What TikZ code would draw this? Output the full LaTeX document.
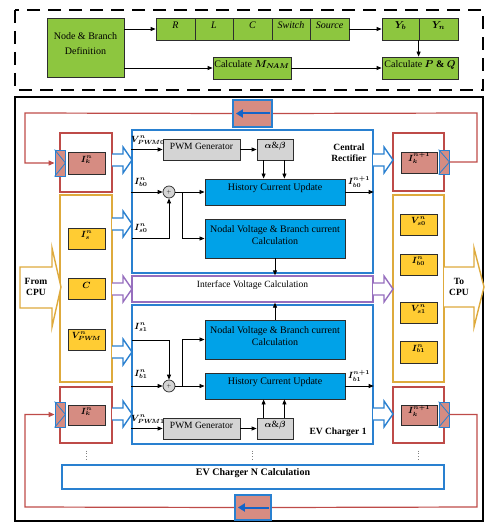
\documentclass[tikz,border=0pt]{standalone}
\usepackage{fontspec}
\setmainfont{Liberation Serif}
\usepackage{bm}
\usetikzlibrary{fit,arrows.meta,calc}

\definecolor{grn}{RGB}{141,198,63}
\definecolor{cyanbox}{RGB}{0,162,232}
\definecolor{bluel}{RGB}{41,128,208}
\definecolor{blued}{RGB}{20,100,200}
\definecolor{redl}{RGB}{190,75,72}
\definecolor{pinkf}{RGB}{214,140,130}
\definecolor{yelf}{RGB}{255,204,51}
\definecolor{gold}{RGB}{222,170,60}
\definecolor{purp}{RGB}{150,110,190}
\definecolor{greyf}{RGB}{212,212,212}
\definecolor{darkl}{RGB}{45,45,45}

\tikzset{
  every node/.style={inner sep=0pt, font=\fontsize{9}{10.5}\selectfont},
  gbox/.style={draw=darkl, fill=grn, line width=0.8pt, align=center, font=\fontsize{10}{12}\selectfont},
  cbox/.style={draw=darkl, fill=cyanbox, line width=0.9pt, align=center, font=\fontsize{10}{12}\selectfont},
  gybox/.style={draw=darkl, fill=greyf, line width=0.8pt, font=\fontsize{9.5}{11}\selectfont},
  pinkbox/.style={draw=darkl, fill=pinkf, line width=0.8pt},
  yelbox/.style={draw=darkl, fill=yelf, line width=0.8pt},
  redframe/.style={draw=redl, line width=1.1pt},
  goldframe/.style={draw=gold, line width=1.1pt},
  blueframe/.style={draw=bluel, line width=1.3pt},
  purpframe/.style={draw=purp, line width=1.3pt},
  plug/.style={draw=bluel, fill=pinkf, line width=0.9pt},
  fbbox/.style={draw=bluel, fill=pinkf, line width=2.2pt},
  arr/.style={-{Triangle[length=5pt,width=4pt]}, line width=0.8pt, draw=black},
  redline/.style={draw=redl, line width=1.2pt},
  redarr/.style={redline, -{Triangle[length=6pt,width=5pt]}},
  fbarr/.style={draw=blued, line width=2pt, -{Triangle[length=7pt,width=8pt]}},
  sumnode/.style={circle, draw=darkl, fill=greyf, line width=0.7pt, minimum size=12pt, font=\fontsize{4}{4}\selectfont},
  lab/.style={font=\fontsize{9}{10}\selectfont},
  bold/.style={font=\fontsize{9.5}{11}\selectfont\bfseries, align=center}
}

% hollow block arrow: x start, x tip, y centre, colour
\newcommand{\hollowarrow}[4]{%
  \draw[#4, line width=1.4pt, fill=white, line join=miter]
    (#1,#3-6) -- (#2-9,#3-6) -- (#2-9,#3-13) -- (#2,#3) -- (#2-9,#3+13) -- (#2-9,#3+6) -- (#1,#3+6);}
% connector plug with a chevron
\newcommand{\plugmark}[1]{%
  \draw[bluel, line width=0.8pt] (#1.north west) -- (#1.east) -- (#1.south west);}

\begin{document}
\begin{tikzpicture}[x=1pt,y=-1pt]
\useasboundingbox (0,0) rectangle (489,524);

% ---------------- network definition stage ----------------
\draw[line width=2pt, dash pattern=on 13pt off 8pt] (15,10) rectangle (483,90);

\node[gbox, fit={(47,18)(124,77)}] (def) {Node \& Branch\\[3pt]Definition};
\node[gbox, fit={(156,18)(195,40)}] (R) {\textit{R}};
\node[gbox, fit={(195,18)(233,40)}] (L) {\textit{L}};
\node[gbox, fit={(233,18)(272,40)}] (C) {\textit{C}};
\node[gbox, fit={(272,18)(310,40)}] (Sw) {\textit{Switch}};
\node[gbox, fit={(310,18)(349,40)}] (Src) {\textit{Source}};
\node[gbox, fit={(382,18)(419,40)}] (Yb) {$\bm{Y_b}$};
\node[gbox, fit={(419,18)(458,40)}] (Yn) {$\bm{Y_n}$};
\node[gbox, fit={(213,57)(291,79)}] (mnam) {Calculate $\bm{M_{N\!AM}}$};
\node[gbox, fit={(382,57)(458,79)}] (pq) {Calculate $\bm{P}$ \textbf{\&} $\bm{Q}$};

\draw[arr] (def.east |- R.west) -- (R.west);
\draw[arr] (Src.east) -- (Yb.west);
\draw[arr] (def.east |- mnam.west) -- (mnam.west);
\draw[arr] (mnam.east) -- (pq.west);
\draw[arr] (Yn.south west) -- (Yn.south west |- pq.north);

% ---------------- real-time simulation stage ----------------
\draw[line width=1.8pt] (15,97) rectangle (483,521);

% input / output columns
\node[redframe, fit={(60,133)(112,192)}] (lred1) {};
\node[goldframe, fit={(60,195)(112,382)}] (lyel) {};
\node[redframe, fit={(60,387)(112,443)}] (lred2) {};
\node[redframe, fit={(393,133)(444,191)}] (rred1) {};
\node[goldframe, fit={(393,195)(444,382)}] (ryel) {};
\node[redframe, fit={(393,387)(444,443)}] (rred2) {};

\node[pinkbox, fit={(68,152)(105,174)}] (ik1) {$\bm{I_k^n}$};
\node[yelbox, fit={(68,228)(105,249)}] (is) {$\bm{I_s^n}$};
\node[yelbox, fit={(68,278)(105,299)}] (cc) {$\bm{C}$};
\node[yelbox, fit={(68,329)(105,350)}] (vpwm) {$\bm{V_{PW\!M}^n}$};
\node[pinkbox, fit={(68,405)(105,425)}] (ik2) {$\bm{I_k^n}$};

\node[pinkbox, fit={(401,152)(437,173)}] (rk1) {$\bm{I_k^{n+1}}$};
\node[yelbox, fit={(400,214)(437,235)}] (vs0) {$\bm{V_{s0}^n}$};
\node[yelbox, fit={(400,254)(437,275)}] (ib0) {$\bm{I_{b0}^n}$};
\node[yelbox, fit={(400,302)(437,323)}] (vs1) {$\bm{V_{s1}^n}$};
\node[yelbox, fit={(400,341)(437,363)}] (ib1) {$\bm{I_{b1}^n}$};
\node[pinkbox, fit={(401,405)(437,425)}] (rk2) {$\bm{I_k^{n+1}}$};

% plugs on the red boxes
\node[plug, fit={(55,150)(65,176)}] (lc1) {};
\node[plug, fit={(439,150)(449,174)}] (rc1) {};
\node[plug, fit={(55,402)(65,427)}] (lc2) {};
\node[plug, fit={(439,402)(449,427)}] (rc2) {};
\plugmark{lc1}\plugmark{rc1}\plugmark{lc2}\plugmark{rc2}

% containers
\node[blueframe, fit={(132,130)(373,273)}] (cr) {};
\node[purpframe, fit={(132,276)(373,302)}, font=\fontsize{9.5}{11}\selectfont] (iface) {Interface Voltage Calculation};
\node[blueframe, fit={(132,305)(373,444)}] (ev1) {};
\node[blueframe, fit={(62,465)(444,489)}, font=\fontsize{10}{12}\selectfont\bfseries] (evN) {EV Charger N Calculation};

% ---- central rectifier ----
\node[gybox, fit={(163,139)(240,160)}] (pwm0) {PWM Generator};
\node[gybox, fit={(257,139)(293,160)}] (ab0) {$\bm{\alpha}$\&$\bm{\beta}$};
\node[cbox, fit={(205,179)(345,205)}] (hcu0) {History Current Update};
\node[cbox, fit={(205,219)(345,258)}] (nv0) {Nodal Voltage \& Branch current\\Calculation};
\node[sumnode] (sum0) at (169,192) {$+$};
\coordinate (s0in) at (132,238);
\coordinate (br0) at (182,192);

\draw[arr] (cr.west |- pwm0.west) -- (pwm0.west);
\draw[arr] (pwm0.east) -- (ab0.west);
\draw[arr] ([xshift=7pt]ab0.south west) -- ([xshift=7pt]ab0.south west |- hcu0.north);
\draw[arr] ([xshift=-9pt]ab0.south east) -- ([xshift=-9pt]ab0.south east |- hcu0.north);
\draw[arr] (cr.west |- sum0.west) -- (sum0.west);
\draw[arr] (s0in) -| (sum0.south);
\draw[arr] (sum0.east) -- (sum0.east -| hcu0.west);
\draw[arr] (br0) |- (nv0.west);
\draw[arr] (nv0.south) -- (nv0.south |- iface.north);
\draw[arr] (hcu0.east) -- (hcu0.east -| cr.east);

\node[lab] at (148,140) {$\bm{V_{PW\!M0}^n}$};
\node[lab] at (141,182) {$\bm{I_{b0}^n}$};
\node[lab] at (141,228) {$\bm{I_{s0}^n}$};
\node[lab] at (359,182) {$\bm{I_{b0}^{n+1}}$};
\node[bold] at (349,153) {Central\\Rectifier};

% ---- EV charger 1 ----
\node[cbox, fit={(205,320)(345,359)}] (nv1) {Nodal Voltage \& Branch current\\Calculation};
\node[cbox, fit={(205,373)(345,399)}] (hcu1) {History Current Update};
\node[gybox, fit={(163,418)(240,439)}] (pwm1) {PWM Generator};
\node[gybox, fit={(257,418)(293,439)}] (ab1) {$\bm{\alpha}$\&$\bm{\beta}$};
\node[sumnode] (sum1) at (169,386) {$+$};
\coordinate (s1in) at (132,340);
\coordinate (br1) at (182,386);

\draw[arr] (s1in) -| (sum1.north);
\draw[arr] (ev1.west |- sum1.west) -- (sum1.west);
\draw[arr] (sum1.east) -- (sum1.east -| hcu1.west);
\draw[arr] (br1) |- (nv1.west);
\draw[arr] (nv1.north) -- (nv1.north |- iface.south);
\draw[arr] (hcu1.east) -- (hcu1.east -| ev1.east);
\draw[arr] (ev1.west |- pwm1.west) -- (pwm1.west);
\draw[arr] (pwm1.east) -- (ab1.west);
\draw[arr] ([xshift=7pt]ab1.north west) -- ([xshift=7pt]ab1.north west |- hcu1.south);
\draw[arr] ([xshift=-9pt]ab1.north east) -- ([xshift=-9pt]ab1.north east |- hcu1.south);

\node[lab] at (141,327) {$\bm{I_{s1}^n}$};
\node[lab] at (141,374) {$\bm{I_{b1}^n}$};
\node[lab] at (148,419) {$\bm{V_{PW\!M1}^n}$};
\node[lab] at (359,376) {$\bm{I_{b1}^{n+1}}$};
\node[bold] at (338,432) {EV Charger 1};

% ---- block arrows between columns and solvers ----
\hollowarrow{112}{132}{160}{bluel}
\hollowarrow{112}{132}{224}{bluel}
\hollowarrow{112}{132}{289}{purp}
\hollowarrow{112}{132}{352}{bluel}
\hollowarrow{112}{132}{414}{bluel}
\hollowarrow{373}{393}{160}{bluel}
\hollowarrow{373}{393}{289}{purp}
\hollowarrow{373}{393}{414}{bluel}

% CPU exchange arrows
\draw[gold, line width=1.4pt, fill=white, line join=miter]
  (20,267) -- (52,267) -- (52,248) -- (61,287) -- (52,327) -- (52,308) -- (20,308) -- cycle;
\node[bold] at (36,287) {From\\CPU};
\draw[gold, line width=1.4pt, fill=white, line join=miter]
  (444,267) -- (474,267) -- (474,248) -- (484,287) -- (474,327) -- (474,307) -- (444,307);
\node[bold] at (459,287) {To\\CPU};

% ---- history current feedback loops ----
\node[fbbox, fit={(233,100)(272,127)}] (fb1) {};
\node[fbbox, fit={(235,495)(271,520)}] (fb2) {};
\coordinate (ne1) at (477,113);
\coordinate (nw1) at (25,113);
\coordinate (se2) at (477,507);
\coordinate (sw2) at (25,507);
\draw[redline] (rc1.east) -| (ne1) -- (fb1.east);
\draw[redarr] (fb1.west) -- (nw1) |- (lc1.west);
\draw[redline] (rc2.east) -| (se2) -- (fb2.east);
\draw[redarr] (fb2.west) -- (sw2) |- (lc2.west);
\draw[fbarr] ($(fb1.east)+(-3,0)$) -- ($(fb1.west)+(4,0)$);
\draw[fbarr] ($(fb2.east)+(-3,0)$) -- ($(fb2.west)+(4,0)$);

% ellipsis between charger 1 and charger N
\draw[gray, dotted, line width=0.8pt] ([yshift=-7pt]lred2.south) -- ([yshift=-17pt]lred2.south);
\draw[gray, dotted, line width=0.8pt] ($(ev1.south)+(0,6)$) -- ($(ev1.south)+(0,16)$);
\draw[gray, dotted, line width=0.8pt] ([yshift=-7pt]rred2.south) -- ([yshift=-17pt]rred2.south);
\end{tikzpicture}
\end{document}
